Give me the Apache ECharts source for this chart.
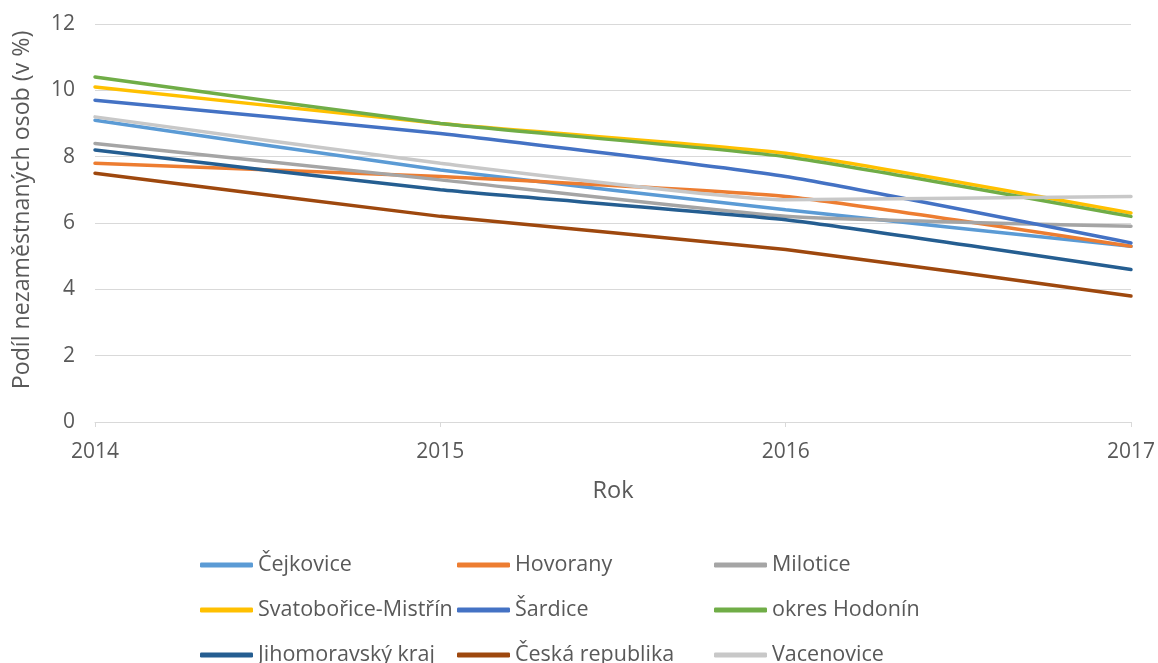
<!DOCTYPE html>
<html><head><meta charset="utf-8">
<script src="https://cdn.jsdelivr.net/npm/echarts@6/dist/echarts.min.js"></script>
<style>html,body{margin:0;padding:0;background:#fff}#c{width:1158px;height:663px}</style>
</head><body><div id="c"></div>
<script>
const years = ['2014','2015','2016','2017'];
const cejkovice = [9.1, 7.6, 6.4, 5.3];
const hovorany = [7.8, 7.4, 6.8, 5.3];
const milotice = [8.4, 7.3, 6.2, 5.9];
const svatoborice = [10.1, 9.0, 8.1, 6.3];
const sardice = [9.7, 8.7, 7.4, 5.4];
const okresHodonin = [10.4, 9.0, 8.0, 6.2];
const jihomoravsky = [8.2, 7.0, 6.1, 4.6];
const ceskaRepublika = [7.5, 6.2, 5.2, 3.8];
const vacenovice = [9.2, 7.8, 6.7, 6.8];
const yTicks = [0, 2, 4, 6, 8, 10, 12];

const names = ['Čejkovice','Hovorany','Milotice','Svatobořice-Mistřín','Šardice','okres Hodonín','Jihomoravský kraj','Česká republika','Vacenovice'];
const values = [cejkovice, hovorany, milotice, svatoborice, sardice, okresHodonin, jihomoravsky, ceskaRepublika, vacenovice];
const colors = ['#5B9BD5','#ED7D31','#A5A5A5','#FFC000','#4472C4','#70AD47','#255E91','#9E480E','#C8C8C8'];

const font = '"Open Sans", "Noto Sans", sans-serif';
const txt = '#595959';

function rowLegend(top, data) {
  return {
    orient: 'horizontal', left: 200, top: top, padding: 0,
    itemWidth: 53, itemHeight: 5, itemGap: 4, icon: 'roundRect',
    textStyle: { fontFamily: font, fontSize: 21.5, color: txt, lineHeight: 24, width: 195 },
    data: data
  };
}

const chart = echarts.init(document.getElementById('c'));
chart.setOption({
  animation: false,
  color: colors,
  grid: { left: 95, right: 26, top: 24, bottom: 241 },
  xAxis: {
    type: 'category', data: years, boundaryGap: false,
    name: 'Rok', nameLocation: 'middle', nameGap: 57,
    nameTextStyle: { fontFamily: font, fontSize: 23.5, color: txt },
    axisLine: { lineStyle: { color: '#d9d9d9', width: 1 } },
    axisTick: { show: true, length: 5, lineStyle: { color: '#d9d9d9' } },
    axisLabel: { fontFamily: font, fontSize: 21, color: txt, margin: 20 },
    splitLine: { show: false }
  },
  yAxis: {
    type: 'value', min: yTicks[0], max: yTicks[yTicks.length-1], interval: 2,
    name: 'Podíl nezaměstnaných osob (v %)', nameLocation: 'middle', nameGap: 61,
    nameTextStyle: { fontFamily: font, fontSize: 23.2, color: txt, padding: [0, 0, 0, 26] },
    axisLine: { show: false }, axisTick: { show: false },
    axisLabel: { fontFamily: font, fontSize: 21, color: txt, margin: 20 },
    splitLine: { lineStyle: { color: '#d9d9d9', width: 1 } }
  },
  legend: [
    rowLegend(553, [names[0], names[1], names[2]]),
    rowLegend(598, [names[3], names[4], names[5]]),
    rowLegend(643, [names[6], names[7], names[8]])
  ],
  series: names.map((n, i) => ({
    name: n, type: 'line', data: values[i], smooth: 0.15,
    symbol: 'none', lineStyle: { width: 3.5, color: colors[i], cap: 'round' },
    itemStyle: { color: colors[i] }
  }))
});
</script></body></html>
